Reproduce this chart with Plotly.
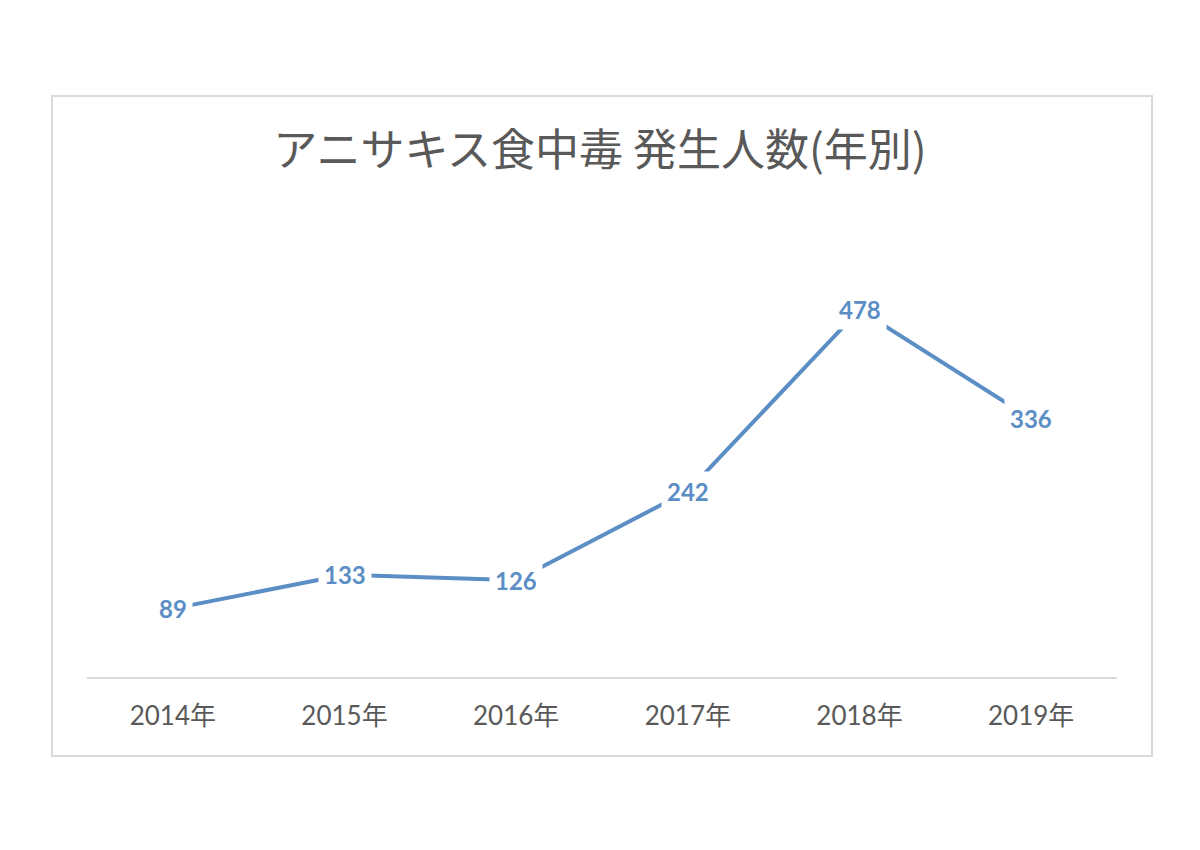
import plotly.graph_objects as go

years = ["2014年", "2015年", "2016年", "2017年", "2018年", "2019年"]
cases = [89, 133, 126, 242, 478, 336]
title = "アニサキス食中毒 発生人数(年別)"

line_color = "#5B8EC5"
text_gray = "#595959"

fig = go.Figure()
fig.add_trace(go.Scatter(
    x=years, y=cases, mode="lines",
    line=dict(color=line_color, width=4),
    hoverinfo="x+y", showlegend=False,
))

for x, y in zip(years, cases):
    fig.add_annotation(
        x=x, y=y, text=f"<b>{y}</b>", showarrow=False,
        bgcolor="white", borderpad=5,
        font=dict(family="Lato, Noto Sans CJK JP", size=24, color=line_color),
        xanchor="center", yanchor="middle",
    )

fig.add_shape(
    type="rect", xref="paper", yref="paper",
    x0=(52 - 87) / 1030, x1=(1152 - 87) / 1030,
    y0=(677 - 756) / 461, y1=(677 - 96) / 461,
    line=dict(color="#D9D9D9", width=2), fillcolor="rgba(0,0,0,0)",
    layer="below",
)

fig.update_layout(
    width=1200, height=850,
    paper_bgcolor="white", plot_bgcolor="white",
    margin=dict(l=87, r=83, t=216, b=173),
    title=dict(
        text=title, x=0.5, xanchor="center", y=1 - 151 / 850, yanchor="middle",
        font=dict(family="Noto Sans CJK JP", size=44, color=text_gray),
    ),
    xaxis=dict(
        type="category", range=[-0.5, 5.5],
        showline=True, linecolor="#D9D9D9", linewidth=1.5,
        showgrid=False, zeroline=False, ticks="",
        ticklabelstandoff=15,
        tickfont=dict(family="Lato, Noto Sans CJK JP", size=26, color=text_gray),
    ),
    yaxis=dict(
        range=[0, 600], visible=False, showgrid=False, zeroline=False,
    ),
)

fig.write_html("out.html")
